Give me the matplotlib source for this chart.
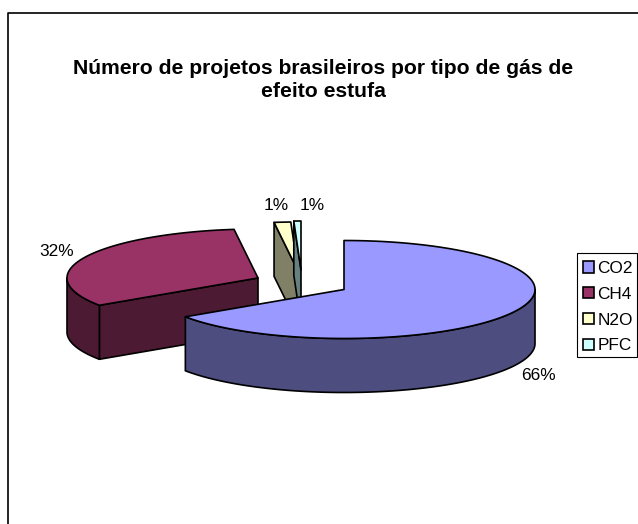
import numpy as np
import matplotlib
matplotlib.use("Agg")
import matplotlib.pyplot as plt
from matplotlib.patches import Patch, Polygon, Rectangle

plt.rcParams['font.family'] = ['Liberation Sans', 'DejaVu Sans']

categories = ['CO2', 'CH4', 'N2O', 'PFC']
values = [65.6, 32.4, 1.4, 0.6]
labels = ['66%', '32%', '1%', '1%']
title = 'Número de projetos brasileiros por tipo de gás de\nefeito estufa'

top_colors = ['#9999FF', '#993366', '#FFFFCC', '#CCFFFF']
side_colors = ['#4D4D80', '#4D1A33', '#808066', '#668080']
apexes = [(344, 289.5), (258, 278), (298, 271), (301, 270)]
label_pos = [(538, 375), (57, 252), (276, 205.5), (312, 205.5)]
RX, RY, DEPTH = 191, 49, 54

fig = plt.figure(figsize=(6.38, 5.24), dpi=100)
ax = fig.add_axes([0, 0, 1, 1])
ax.set_xlim(0, 638)
ax.set_ylim(524, 0)
ax.axis('off')

ax.plot([8, 8, 638], [524, 12.5, 12.5], color='black', lw=1.2, zorder=1)


def rim(ap, a):
    a = np.radians(a)
    return np.column_stack((ap[0] + RX * np.sin(a), ap[1] - RY * np.cos(a)))


def face(pts, color, z):
    ax.add_patch(Polygon(pts, closed=True, fc=color, ec='black', lw=1.2, joinstyle='round', zorder=z))


edges = np.concatenate(([0], np.cumsum(values))) / sum(values) * 360
order = [1, 2, 3, 0]
for z, i in enumerate(order):
    a0, a1 = edges[i], edges[i + 1]
    ap = np.array(apexes[i])
    down = np.array([0, DEPTH])
    base = 2 + z * 3
    if np.sin(np.radians(a0)) < -1e-6:
        p = rim(ap, a0)[0]
        face([ap, p, p + down, ap + down], side_colors[i], base)
    if np.sin(np.radians(a1)) > 1e-6:
        p = rim(ap, a1)[0]
        face([ap, p, p + down, ap + down], side_colors[i], base)
    lo, hi = max(a0, 90), min(a1, 270)
    if hi > lo:
        arc = rim(ap, np.linspace(lo, hi, 120))
        face(np.vstack((arc, arc[::-1] + down)), side_colors[i], base + 1)
    arc = rim(ap, np.linspace(a0, a1, 200))
    face(np.vstack(([ap], arc)), top_colors[i], base + 2)

for lab, (x, y) in zip(labels, label_pos):
    ax.text(x, y, lab, ha='center', va='center', fontsize=12.4, color='black', zorder=30)

ax.text(323, 80, title, ha='center', va='center', fontsize=15.2, fontweight='bold',
        linespacing=1.3, zorder=30)

ax.add_patch(Rectangle((577, 253), 60, 104, fc='white', ec='black', lw=0.8, zorder=35))
handles = [Patch(fc=c, ec='black', lw=1.2) for c in top_colors]
leg = ax.legend(handles, categories, loc='upper left', bbox_to_anchor=(578 / 638, 1 - 256 / 524),
                borderaxespad=0, frameon=False,
                prop={'size': 12.4}, handlelength=0.63, handleheight=0.63, handletextpad=0.2,
                labelspacing=0.62, borderpad=0.3)
leg.set_zorder(40)

fig.savefig('out.png', dpi=100, facecolor='white')
